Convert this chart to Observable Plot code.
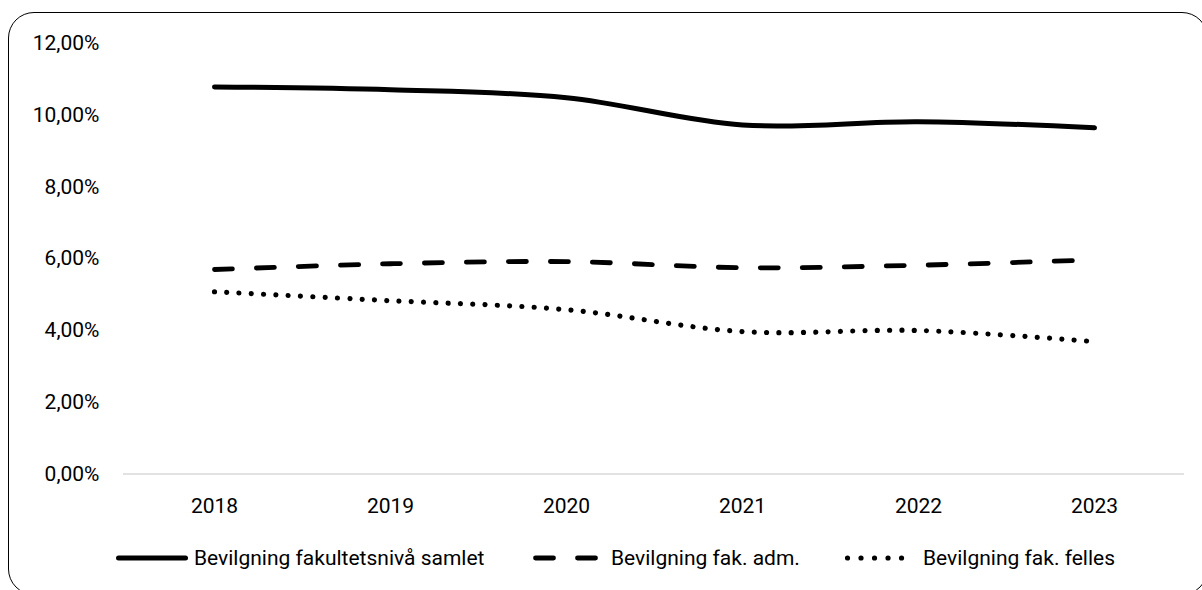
<!DOCTYPE html>
<html lang="no">
<head>
<meta charset="utf-8">
<script src="https://cdn.jsdelivr.net/npm/d3@7"></script>
<script src="https://cdn.jsdelivr.net/npm/@observablehq/plot@0.6"></script>
<style>
  body { margin: 0; background: #fff; }
  #wrap { position: relative; width: 1202px; height: 590px; overflow: hidden;
          font-family: Roboto, "Liberation Sans", sans-serif; color: #000; }
  #frame { position: absolute; left: 8px; top: 12px; width: 1200px; height: 583px;
           border: 1.5px solid #000; border-radius: 26px; box-sizing: border-box; }
  #chart { position: absolute; left: 0; top: 0; }
  #legend { position: absolute; left: 0; top: 530px; width: 1202px; height: 60px; }
  .item { position: absolute; top: 14px; height: 28px; display: flex; align-items: center;
          font-size: 21px; white-space: nowrap; }
  .item svg { display: block; }
</style>
</head>
<body>
<div id="wrap">
  <div id="frame"></div>
  <div id="chart"></div>
  <div id="legend"></div>
</div>
<script>
// Years on the x axis
const years = ["2018", "2019", "2020", "2021", "2022", "2023"];

// Share of total appropriation (fractions)
const samlet = [0.1079, 0.1071, 0.1049, 0.0973, 0.0982, 0.0965];
const admin  = [0.0570, 0.0586, 0.0592, 0.0575, 0.0582, 0.0597];
const felles = [0.0508, 0.0483, 0.0458, 0.0397, 0.0400, 0.0369];

// Series names as shown in the legend
const seriesNames = [
  "Bevilgning fakultetsnivå samlet",
  "Bevilgning fak. adm.",
  "Bevilgning fak. felles"
];

// y-axis tick values
const yTicks = [0, 0.02, 0.04, 0.06, 0.08, 0.10, 0.12];

// Norwegian number formatting: 12,00%
const nb = d3.formatLocale({ decimal: ",", thousands: "\u00a0", grouping: [3], currency: ["", " kr"] });
const pct = nb.format(".2%");

const valuesBySeries = [samlet, admin, felles];
const rows = [];
seriesNames.forEach((name, i) => {
  years.forEach((year, j) => rows.push({ series: name, year, value: valuesBySeries[i][j] }));
});

const dashes = [null, "18,24", "0.01,12.3"];
const widths = [5, 4.8, 5.2];
const smooth = d3.curveCatmullRom.alpha(0);
const font = 'Roboto, "Liberation Sans", sans-serif';

const chart = Plot.plot({
  width: 1202,
  height: 530,
  marginLeft: 123,
  marginRight: 18,
  marginTop: 43,
  marginBottom: 56.5,
  style: { fontSize: "21px", fontFamily: font, color: "#000", background: "transparent", overflow: "visible" },
  x: { type: "point", domain: years, padding: 0.5, label: null },
  y: { domain: [0, 0.12], label: null },
  marks: [
    Plot.ruleY([0], { stroke: "#d9d9d9", strokeWidth: 1.5 }),
    Plot.axisY({ ticks: yTicks, tickFormat: pct, tickSize: 0, tickPadding: 24, label: null, fill: "#000" }),
    Plot.axisX({ tickSize: 0, tickPadding: 24, label: null, fill: "#000" }),
    ...seriesNames.map((name, i) =>
      Plot.line(rows.filter(d => d.series === name), {
        x: "year",
        y: "value",
        stroke: "#000",
        strokeWidth: widths[i],
        strokeLinecap: "round",
        strokeLinejoin: "round",
        strokeDasharray: dashes[i],
        curve: smooth
      })
    )
  ]
});
document.getElementById("chart").appendChild(chart);

// Legend below the plot
const legendItems = [
  { left: 116, w: 72, gap: 6,  dash: null,        x2: 69.5 },
  { left: 533, w: 65, gap: 13, dash: "18,24",     x2: 62.5 },
  { left: 845, w: 67, gap: 11, dash: "0.01,13.5", x2: 65 }
];
const legend = d3.select("#legend");
legendItems.forEach((it, i) => {
  const item = legend.append("div").attr("class", "item").style("left", it.left + "px");
  const svg = item.append("svg").attr("width", it.w).attr("height", 12);
  svg.append("line")
    .attr("x1", 2.5).attr("x2", it.x2).attr("y1", 6).attr("y2", 6)
    .attr("stroke", "#000").attr("stroke-width", widths[i])
    .attr("stroke-linecap", "round")
    .attr("stroke-dasharray", it.dash);
  item.append("span").style("margin-left", it.gap + "px").text(seriesNames[i]);
});
</script>
</body>
</html>
